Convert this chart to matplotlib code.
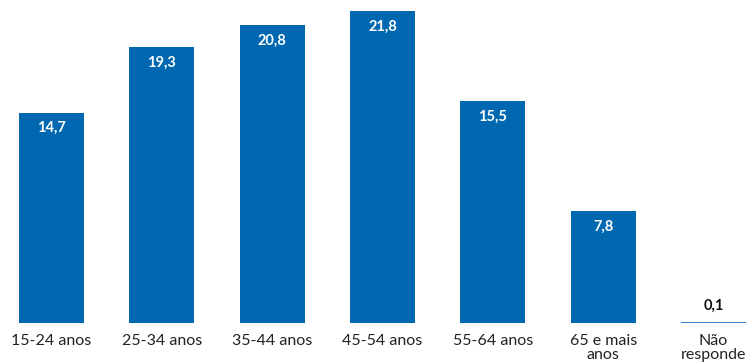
import matplotlib
matplotlib.use("Agg")
from matplotlib import pyplot as plt

categories = ["15-24 anos", "25-34 anos", "35-44 anos", "45-54 anos",
              "55-64 anos", "65 e mais\nanos", "Não\nresponde"]
values = [14.7, 19.3, 20.8, 21.8, 15.5, 7.8, 0.1]
labels = ["14,7", "19,3", "20,8", "21,8", "15,5", "7,8", "0,1"]

plt.rcParams['font.family'] = ['Lato', 'DejaVu Sans']

fig = plt.figure(figsize=(7.52, 3.62), dpi=100)
ax = fig.add_axes([0, 1 - 323 / 362, 1, 323 / 362])

x = list(range(len(categories)))
colors = ["#0068B1"] * 6 + ["#2F80C8"]
bars = ax.bar(x, values, width=0.59, color=colors)

px_per_unit = 312 / 21.8
ax.set_ylim(0, 323 / px_per_unit)
ax.set_xlim(-51.5 / 110.33, (752 - 51.5) / 110.33)

for i, (v, lab) in enumerate(zip(values, labels)):
    if v > 1:
        ax.text(i, v - 0.6, lab, ha="center", va="top", color="white",
                fontsize=10.5, fontweight="bold")
    else:
        ax.text(i, v + 0.6, lab, ha="center", va="bottom", color="#111111",
                fontsize=10.5, fontweight="bold")

ax.set_xticks(x)
ax.set_xticklabels(categories, fontsize=11.5, color="#222222", linespacing=0.95)
ax.tick_params(axis="x", length=0, pad=8)
ax.set_yticks([])
for s in ax.spines.values():
    s.set_visible(False)

fig.savefig("out.png", dpi=100)
